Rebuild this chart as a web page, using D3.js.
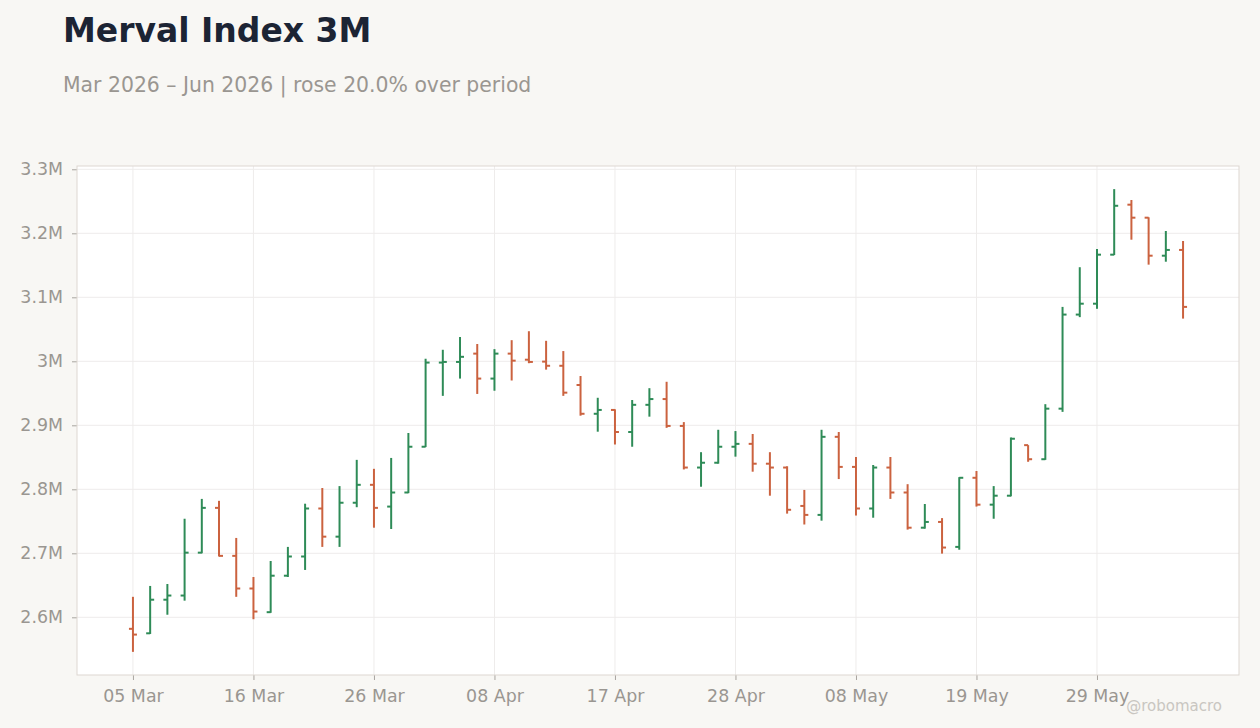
<!DOCTYPE html>
<html lang="en">
<head>
<meta charset="utf-8"/>
<title>Merval Index 3M</title>
<script src="https://d3js.org/d3.v7.min.js"></script>
<style>
  body { margin: 0; background: #f8f7f4; }
  svg { display: block; font-family: "DejaVu Sans", sans-serif; }
</style>
</head>
<body>
<svg id="chart" width="1260" height="728"></svg>

<script>
// trading days, Mar - Jun 2026
const dates = [
  "2026-03-05","2026-03-06","2026-03-09","2026-03-10","2026-03-11","2026-03-12","2026-03-13",
  "2026-03-16","2026-03-17","2026-03-18","2026-03-19","2026-03-20","2026-03-23","2026-03-25",
  "2026-03-26","2026-03-27","2026-03-30","2026-03-31","2026-04-01","2026-04-06","2026-04-07",
  "2026-04-08","2026-04-09","2026-04-10","2026-04-13","2026-04-14","2026-04-15","2026-04-16",
  "2026-04-17","2026-04-20","2026-04-21","2026-04-22","2026-04-23","2026-04-24","2026-04-27",
  "2026-04-28","2026-04-29","2026-04-30","2026-05-04","2026-05-05","2026-05-06","2026-05-07",
  "2026-05-08","2026-05-11","2026-05-12","2026-05-13","2026-05-14","2026-05-15","2026-05-18",
  "2026-05-19","2026-05-20","2026-05-21","2026-05-22","2026-05-26","2026-05-27","2026-05-28",
  "2026-05-29","2026-06-01","2026-06-02","2026-06-03","2026-06-04","2026-06-05"
]

const open = [
  2582000,2575000,2627500,2634000,2701000,2771000,2696000,2645000,2608000,2665000,2695000,2770000,
  2726000,2779000,2807000,2773000,2795000,2866500,2998000,2999000,3012000,2973000,3012000,3002500,
  2999500,2993000,2963000,2918000,2924000,2889500,2932000,2941000,2899000,2834000,2841500,2866500,
  2871000,2840000,2834000,2774000,2760000,2882000,2835000,2770000,2834000,2795000,2740000,2749000,
  2710000,2818000,2776000,2790000,2869000,2847000,2926000,3073000,3090000,3166600,3244700,3224400,
  3165000,3174000
]
const high = [
  2632000,2649000,2652000,2754000,2785000,2782000,2724000,2663000,2688000,2710000,2777500,2802000,
  2805000,2846000,2832000,2849000,2888000,3004000,3018000,3038000,3027000,3019000,3033000,3047000,
  3032000,3016000,2977000,2943000,2925000,2939500,2958000,2968000,2905000,2858000,2893000,2891000,
  2886400,2858000,2836000,2799000,2893000,2889500,2850500,2838000,2850500,2808000,2777000,2755000,
  2819000,2828600,2805000,2881000,2869000,2933000,3085000,3147000,3175500,3269000,3252000,3225000,
  3203600,3188000
]
const low = [
  2546000,2574000,2604000,2626000,2700000,2695000,2632000,2597000,2607000,2663000,2674000,2710000,
  2710000,2772000,2740000,2738000,2794000,2866000,2946000,2973000,2949000,2954000,2970000,2997000,
  2987000,2946000,2915000,2890000,2870000,2866500,2913500,2896000,2831000,2804000,2840000,2851000,
  2827500,2790000,2762000,2745000,2751000,2816000,2759000,2755600,2785000,2737000,2738500,2699500,
  2705600,2773000,2754000,2789000,2843000,2846000,2921000,3069000,3082000,3166000,3190000,3151000,
  3155600,3066700
]
const close = [
  2573000,2627500,2634000,2701000,2771000,2696000,2645000,2609000,2665000,2695000,2770000,2726000,
  2779000,2807000,2771000,2795000,2866500,2998000,2999000,3007000,2973000,3012000,3001000,2999000,
  2993000,2951000,2918000,2924000,2889500,2932000,2941000,2899000,2834000,2841500,2866500,2871000,
  2840000,2834000,2768000,2760000,2882000,2835000,2770000,2834000,2795000,2740000,2749000,2709000,
  2818000,2776000,2790000,2879000,2847000,2926000,3073000,3090000,3166600,3243000,3224400,3165000,
  3174000,3085000
]

const title = "Merval Index 3M"
const subtitle = "Mar 2026 \u2013 Jun 2026 | rose 20.0% over period"

const upColor = "#2e8b57"
const downColor = "#cb623f"

const W = 1260, H = 728
const margin = { top: 166, right: 21, bottom: 53, left: 77 }
const iw = W - margin.left - margin.right
const ih = H - margin.top - margin.bottom

const parse = d3.timeParse("%Y-%m-%d")
const fmtDate = d3.timeFormat("%d %b")

const bars = dates.map((d, i) => ({
  date: d, o: open[i], h: high[i], l: low[i], c: close[i]
}))

const svg = d3.select("#chart")

svg.append("text").attr("x", 63).attr("y", 42)
   .attr("font-size", 33).attr("font-weight", "bold").attr("fill", "#1c2434")
   .text(title)
svg.append("text").attr("x", 63).attr("y", 92)
   .attr("font-size", 20.4).attr("fill", "#9a9691")
   .text(subtitle)

const g = svg.append("g").attr("transform", `translate(${margin.left},${margin.top})`)

g.append("rect").attr("width", iw).attr("height", ih).attr("fill", "#fff")

// x: one slot per trading day
const x = d3.scalePoint().domain(dates).range([0, iw]).padding(3.25)

const lo = d3.min(low), hi = d3.max(high), pad = (hi - lo) * 0.05
const y = d3.scaleLinear().domain([lo - pad, hi + pad]).range([ih, 0])

const xTicks = dates.filter((d, i) => i % 7 === 0)
const yTicks = y.ticks(8)

// grid
g.append("g").selectAll("line").data(yTicks).join("line")
  .attr("x1", 0).attr("x2", iw)
  .attr("y1", d => y(d)).attr("y2", d => y(d))
  .attr("stroke", "#eeeceb").attr("stroke-width", 1)
g.append("g").selectAll("line").data(xTicks).join("line")
  .attr("x1", d => x(d)).attr("x2", d => x(d))
  .attr("y1", 0).attr("y2", ih)
  .attr("stroke", "#eeeceb").attr("stroke-width", 1)

// axes
const yAxis = d3.axisLeft(y).tickValues(yTicks).tickSize(5).tickPadding(9)
  .tickFormat(d => d3.format(".2~f")(d / 1e6) + "M")
const xAxis = d3.axisBottom(x).tickValues(xTicks).tickSize(5).tickPadding(10)
  .tickFormat(d => fmtDate(parse(d)))

const ya = g.append("g").call(yAxis)
const xa = g.append("g").attr("transform", `translate(0,${ih})`).call(xAxis)
;[ya, xa].forEach(a => {
  a.select(".domain").remove()
  a.selectAll(".tick line").attr("stroke", "#a9a5a0")
  a.selectAll(".tick text").attr("fill", "#9a9691")
    .attr("font-size", 17.4).attr("font-family", "DejaVu Sans, sans-serif")
})

// OHLC bars
const tk = 4
const bar = g.append("g").selectAll("g").data(bars).join("g")
  .attr("stroke", d => d.c >= d.o ? upColor : downColor)
  .attr("stroke-width", 2)
bar.append("line")
  .attr("x1", d => x(d.date)).attr("x2", d => x(d.date))
  .attr("y1", d => y(d.h)).attr("y2", d => y(d.l))
bar.append("line")
  .attr("x1", d => x(d.date) - tk).attr("x2", d => x(d.date))
  .attr("y1", d => y(d.o)).attr("y2", d => y(d.o))
bar.append("line")
  .attr("x1", d => x(d.date)).attr("x2", d => x(d.date) + tk)
  .attr("y1", d => y(d.c)).attr("y2", d => y(d.c))

g.append("rect").attr("width", iw).attr("height", ih)
  .attr("fill", "none").attr("stroke", "#ddd7d1").attr("stroke-width", 1)

svg.append("text").attr("x", 1222).attr("y", 711)
   .attr("text-anchor", "end").attr("font-size", 15).attr("fill", "#c9c6c1")
   .text("@robomacro")
</script>
</body>
</html>
